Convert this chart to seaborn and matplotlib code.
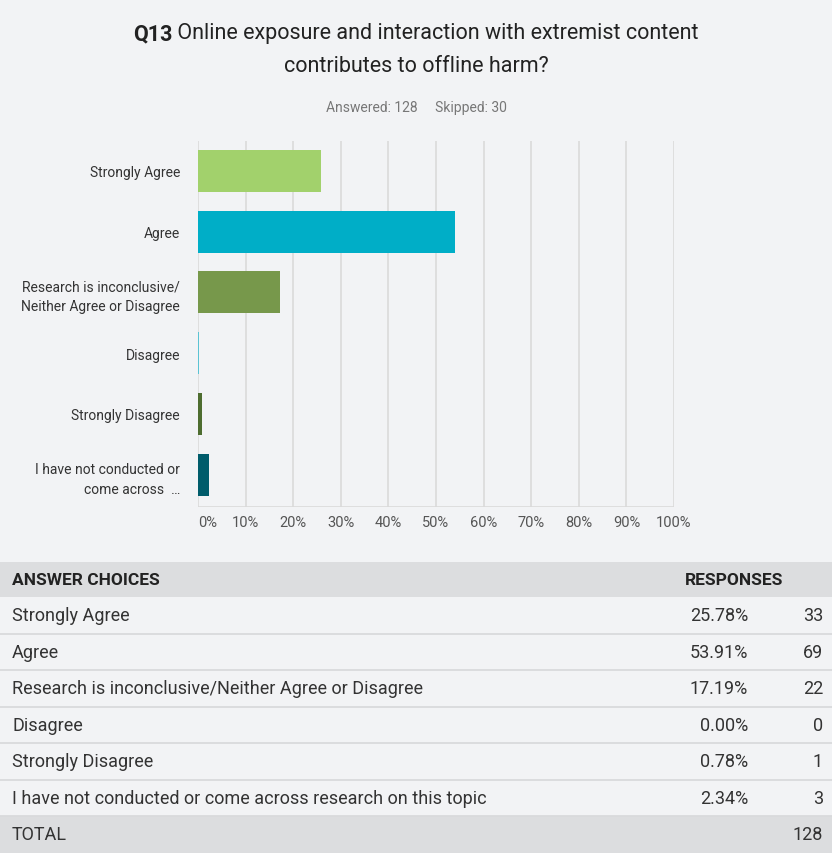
import matplotlib
matplotlib.use("Agg")
import matplotlib.pyplot as plt
from matplotlib.patches import Rectangle
import seaborn as sns
import pandas as pd

# Survey data
categories = [
    "Strongly Agree",
    "Agree",
    "Research is inconclusive/Neither Agree or Disagree",
    "Disagree",
    "Strongly Disagree",
    "I have not conducted or come across research on this topic",
]
axis_labels = [
    "Strongly Agree",
    "Agree",
    "Research is inconclusive/\nNeither Agree or Disagree",
    "Disagree",
    "Strongly Disagree",
    "I have not conducted or\ncome across  \u2026",
]
percentages = [25.78, 53.91, 17.19, 0.00, 0.78, 2.34]
counts = [33, 69, 22, 0, 1, 3]
total = 128
skipped = 30
x_ticks = [0, 10, 20, 30, 40, 50, 60, 70, 80, 90, 100]
bar_colors = ["#a2d16c", "#00aec7", "#77984b", "#5bc3d3", "#4e6d30", "#005c6b"]

BG = "#f2f3f5"
sns.set_theme(style="white")
plt.rcParams["font.family"] = ["Liberation Sans Narrow", "DejaVu Sans Condensed", "Roboto", "DejaVu Sans"]

W, H = 832, 854
fig = plt.figure(figsize=(W / 100, H / 100), dpi=100, facecolor=BG)

def fx(px):
    return px / W

def fy(py):
    return 1 - py / H

# Bar chart
ax = fig.add_axes([fx(198), fy(508), fx(674) - fx(198), fy(142) - fy(508)], facecolor=BG)
df = pd.DataFrame({"label": axis_labels, "pct": percentages})
sns.barplot(data=df, x="pct", y="label", hue="label", palette=bar_colors,
            legend=False, ax=ax, width=0.69, saturation=1, orient="h",
            linewidth=0, edgecolor="none")
for bar, v in zip(ax.patches, percentages):
    if v == 0:
        bar.set_width(0.15)
ax.set_xlim(0, 100)
ax.set_ylim(5.53, -0.49)
ax.set_xticks(x_ticks)
ax.set_xticklabels([f"{t}%" for t in x_ticks], fontsize=10.5, color="#555555")
ax.get_xticklabels()[0].set_horizontalalignment("left")
ax.tick_params(axis="x", length=0, pad=6)
ax.tick_params(axis="y", length=0, pad=13, labelsize=10, labelcolor="#333333")
ax.set_xlabel("")
ax.set_ylabel("")
for t in x_ticks:
    ax.axvline(t, color="#dadada", lw=1.2, zorder=0)
for s in ax.spines.values():
    s.set_visible(False)
ax.axhline(5.53, color="#dadada", lw=1.2, zorder=0)
for lbl in ax.get_yticklabels():
    lbl.set_horizontalalignment("right")
    lbl.set_multialignment("right")
    lbl.set_linespacing(1.5)

# Title: bold question number followed by regular text
fig.canvas.draw()
renderer = fig.canvas.get_renderer()
t1 = fig.text(0, fy(34), "Q13", fontsize=15.5, fontweight="bold", color="#222222", va="center")
t2 = fig.text(0, fy(34), " Online exposure and interaction with extremist content",
              fontsize=15.5, color="#222222", va="center")
w1 = t1.get_window_extent(renderer).width
w2 = t2.get_window_extent(renderer).width
start = (W - (w1 + w2)) / 2
t1.set_x(fx(start))
t2.set_x(fx(start + w1))
fig.text(0.5, fy(67), "contributes to offline harm?", fontsize=15.5, color="#222222",
         ha="center", va="center")
fig.text(0.5, fy(108), f"Answered: {total}     Skipped: {skipped}", fontsize=10,
         color="#777777", ha="center", va="center")

# Response table
tab = fig.add_axes([0, 0, 1, 1], facecolor="none")
tab.set_xlim(0, W)
tab.set_ylim(H, 0)
tab.axis("off")
row_h = 36.5
head_top = 563
tab.add_patch(Rectangle((0, head_top), W, 35, color="#dcdddf", lw=0))
tab.text(12, head_top + 18, "ANSWER CHOICES", fontsize=12.5, fontweight="bold",
         color="#222222", va="center")
tab.text(685, head_top + 18, "RESPONSES", fontsize=12.5, fontweight="bold",
         color="#222222", va="center")
y0 = head_top + 35
for i, (cat, p, n) in enumerate(zip(categories, percentages, counts)):
    yc = y0 + row_h * i + row_h / 2
    tab.text(12, yc, cat, fontsize=13, color="#333333", va="center")
    tab.text(748, yc, f"{p:.2f}%", fontsize=13, color="#333333", va="center", ha="right")
    tab.text(823, yc, f"{n}", fontsize=13, color="#333333", va="center", ha="right")
    tab.plot([0, W], [y0 + row_h * (i + 1), y0 + row_h * (i + 1)], color="#d9dadc", lw=1.3)
tot_top = y0 + row_h * len(categories)
tab.add_patch(Rectangle((0, tot_top), W, H - tot_top, color="#dcdddf", lw=0))
tab.text(12, tot_top + (H - tot_top) / 2, "TOTAL", fontsize=13, color="#333333", va="center")
tab.text(823, tot_top + (H - tot_top) / 2, f"{total}", fontsize=13, color="#333333",
         va="center", ha="right")

fig.savefig("out.png", dpi=100, facecolor=BG)
